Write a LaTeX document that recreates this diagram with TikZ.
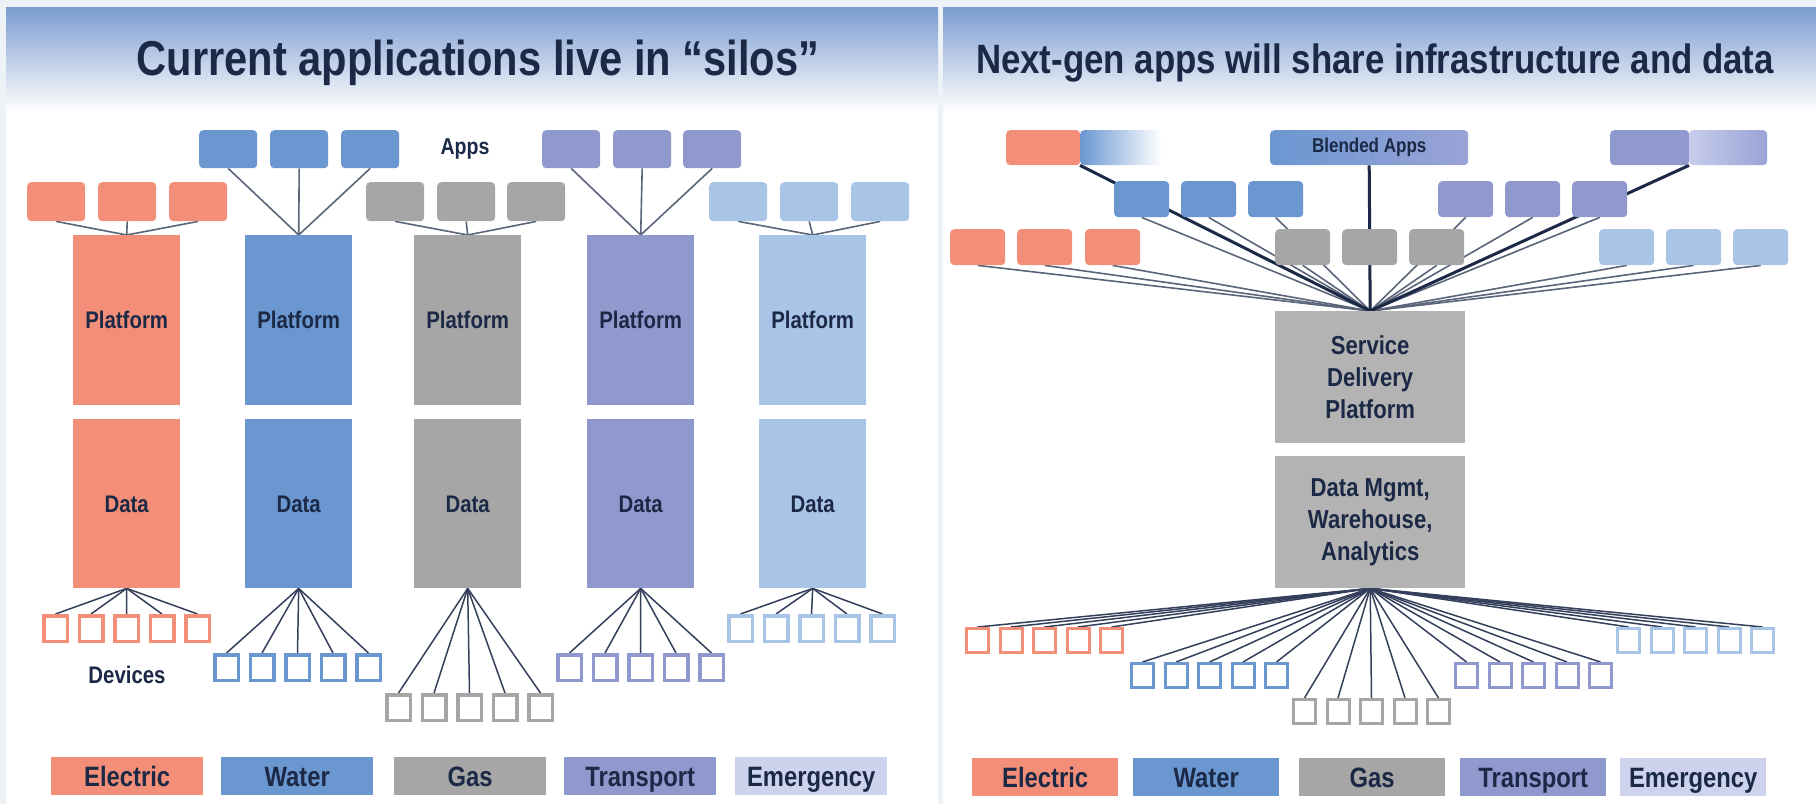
\documentclass[tikz,border=0pt]{standalone}
\usepackage{fontspec}
\setmainfont{Liberation Sans}[FakeStretch=0.85]
\usetikzlibrary{calc}
\pgfdeclarelayer{back}
\pgfdeclarelayer{wires}
\pgfsetlayers{back,wires,main}
\definecolor{salmon}{HTML}{F38F78}
\definecolor{water}{HTML}{6B97D1}
\definecolor{gasc}{HTML}{A6A6A6}
\definecolor{trans}{HTML}{8F99CD}
\definecolor{emerg}{HTML}{A8C4E6}
\definecolor{legem}{HTML}{CDD3EC}
\definecolor{navy}{HTML}{1B2946}
\definecolor{wirec}{HTML}{5A6579}
\definecolor{dwirec}{HTML}{34405B}
\definecolor{pagebg}{HTML}{EDF2F6}
\definecolor{hdrtop}{HTML}{7B9CD0}
\definecolor{hdrmid}{HTML}{D9E3F2}
\definecolor{sdpc}{HTML}{B3B3B3}
\definecolor{lavlight}{HTML}{C6CDEC}
\definecolor{lavdark}{HTML}{9AA3D6}
\newcommand{\fz}[2]{\bfseries\fontsize{#1}{#2}\selectfont}
\begin{document}
\begin{tikzpicture}[x=1pt,y=-1pt,
 app/.style={rounded corners=4pt, inner sep=0pt, anchor=north west, minimum width=58pt, minimum height=38pt},
 rapp/.style={rounded corners=4pt, inner sep=0pt, anchor=north west, minimum width=55pt, minimum height=36pt},
 col/.style={inner sep=0pt, anchor=north west, minimum width=107pt, text=navy, font=\fz{24}{28}, text height=17pt, text depth=0pt},
 dev/.style={draw, fill=white, line width=3.5pt, minimum width=23.5pt, minimum height=25.5pt, inner sep=0pt},
 rdev/.style={draw, fill=white, line width=3pt, minimum width=22pt, minimum height=24pt, inner sep=0pt},
 leg/.style={inner sep=0pt, anchor=north west, minimum height=38pt, text=navy, font=\fz{28}{32}, text height=20pt, text depth=0pt},
 twire/.style={draw=wirec, line width=1.6pt},
 dwire/.style={draw=dwirec, line width=1.5pt},
 heavy/.style={draw=navy, line width=3pt},
 lbl/.style={text=navy, inner sep=0pt}
]
\useasboundingbox (0,0) rectangle (1816,804);
\begin{pgfonlayer}{back}
\fill[pagebg] (0,0) rectangle (1816,804);
\fill[white] (6,7) rectangle (938,804);
\fill[white] (943,7) rectangle (1816,804);
\shade[top color=hdrtop, middle color=hdrmid, bottom color=white] (6,7) rectangle (938,112);
\shade[top color=hdrtop, middle color=hdrmid, bottom color=white] (943,7) rectangle (1816,112);
\end{pgfonlayer}

% titles
\node[lbl, font=\fz{49}{56}, anchor=base] (t1) at (478,75) {Current applications live in “silos”};
\node[lbl, font=\fz{41}{48}, anchor=base] (t2) at (1375,73) {Next-gen apps will share infrastructure and data};

% ---------- left panel ----------
\foreach \n/\x in {1/199,2/270,3/341} \node[app, fill=water] (w-a\n) at (\x,130) {};
\foreach \n/\x in {1/542,2/613,3/683} \node[app, fill=trans] (t-a\n) at (\x,130) {};
\foreach \n/\x in {1/27,2/98,3/169} \node[app, fill=salmon, minimum height=39pt] (e-a\n) at (\x,182) {};
\foreach \n/\x in {1/366,2/437,3/507} \node[app, fill=gasc, minimum height=39pt] (g-a\n) at (\x,182) {};
\foreach \n/\x in {1/709,2/780,3/851} \node[app, fill=emerg, minimum height=39pt] (m-a\n) at (\x,182) {};
\node[lbl, font=\fz{23}{26}] (apps) at (465,149) {Apps};

\foreach \k/\x/\c in {e/73/salmon, w/245/water, g/414/gasc, t/587/trans, m/759/emerg} {
  \node[col, fill=\c, minimum height=170pt] (\k-plat) at (\x,235) {Platform};
  \node[col, fill=\c, minimum height=169pt] (\k-dat) at (\x,419) {Data};
}
\foreach \k/\x/\y/\c in {e/42/614/salmon, w/213/653/water, g/385/693/gasc, t/556/653/trans, m/727/614/emerg} {
  \foreach \i in {1,...,5} \node[dev, draw=\c] (\k-dv\i) at ({\x+13.5+(\i-1)*35.5},{\y+14.5}) {};
}
\node[lbl, font=\fz{24}{28}] (devl) at (127,675) {Devices};

\foreach \k/\x/\c/\t in {e/51/salmon/Electric, w/221/water/Water, g/394/gasc/Gas, t/564/trans/Transport, m/735/legem/Emergency}
  \node[leg, fill=\c, minimum width=152pt] (\k-leg) at (\x,757) {\t};

% ---------- right panel ----------
\node[rapp, minimum width=155pt, minimum height=35pt, path picture={
   \fill[salmon] (path picture bounding box.north west) rectangle ++(74,35);
   \shade[left color=water, right color=white] ($(path picture bounding box.north west)+(74,0)$) rectangle (path picture bounding box.south east);
 }] (rbl) at (1006,130) {};
\node[rapp, minimum width=198pt, minimum height=35pt, left color=water, right color=lavdark, text=navy, font=\fz{20}{24}] (rba) at (1270,130) {Blended Apps};
\node[rapp, minimum width=157pt, minimum height=35pt, path picture={
   \fill[trans] (path picture bounding box.north west) rectangle ++(79,35);
   \shade[left color=lavlight, right color=lavdark] ($(path picture bounding box.north west)+(79,0)$) rectangle (path picture bounding box.south east);
 }] (rbr) at (1610,130) {};
\coordinate (blcut) at ($(rbl.south west)+(74,0)$);
\coordinate (brcut) at ($(rbr.south west)+(79,0)$);

\foreach \n/\x in {1/1114,2/1181,3/1248} \node[rapp, fill=water] (rw-a\n) at (\x,181) {};
\foreach \n/\x in {1/1438,2/1505,3/1572} \node[rapp, fill=trans] (rt-a\n) at (\x,181) {};
\foreach \n/\x in {1/950,2/1017,3/1085} \node[rapp, fill=salmon] (re-a\n) at (\x,229) {};
\foreach \n/\x in {1/1275,2/1342,3/1409} \node[rapp, fill=gasc] (rg-a\n) at (\x,229) {};
\foreach \n/\x in {1/1599,2/1666,3/1733} \node[rapp, fill=emerg] (rm-a\n) at (\x,229) {};

\node[inner sep=0pt, anchor=north west, minimum width=190pt, minimum height=132pt, fill=sdpc, text=navy, font=\fz{26}{32}, align=center] (sdp) at (1275,311) {Service\\Delivery\\Platform};
\node[inner sep=0pt, anchor=north west, minimum width=190pt, minimum height=132pt, fill=sdpc, text=navy, font=\fz{26}{32}, align=center] (dm) at (1275,456) {Data Mgmt,\\Warehouse,\\Analytics};

\foreach \k/\x/\y/\c in {e/965/627/salmon, w/1130/662/water, g/1292/698/gasc, t/1454/662/trans, m/1616/627/emerg} {
  \foreach \i in {1,...,5} \node[rdev, draw=\c] (r\k-dv\i) at ({\x+12.5+(\i-1)*33.5},{\y+13.5}) {};
}
\foreach \k/\x/\c/\t in {e/972/salmon/Electric, w/1133/water/Water, g/1299/gasc/Gas, t/1460/trans/Transport, m/1620/legem/Emergency}
  \node[leg, fill=\c, minimum width=146pt] (r\k-leg) at (\x,758) {\t};

% ---------- wires ----------
\begin{pgfonlayer}{wires}
\foreach \k in {e,w,g,t,m} {
  \foreach \n in {1,2,3} \draw[twire] (\k-a\n.south) -- (\k-plat.north);
  \foreach \i in {1,...,5} \draw[dwire] (\k-dat.south) -- (\k-dv\i.north);
}
\foreach \nm in {re-a1,re-a2,re-a3,rg-a1,rg-a3,rm-a1,rm-a2,rm-a3,rw-a1,rw-a2,rw-a3,rt-a1,rt-a2,rt-a3}
  \draw[twire] (\nm.south) -- (sdp.north);
\draw[heavy] (blcut) -- (sdp.north);
\draw[heavy] (brcut) -- (sdp.north);
\draw[heavy] (rba.south) -- (sdp.north);
\foreach \k in {e,w,g,t,m} {
  \foreach \i in {1,...,5} \draw[dwire] (dm.south) -- (r\k-dv\i.north);
}
\end{pgfonlayer}
\end{tikzpicture}
\end{document}
